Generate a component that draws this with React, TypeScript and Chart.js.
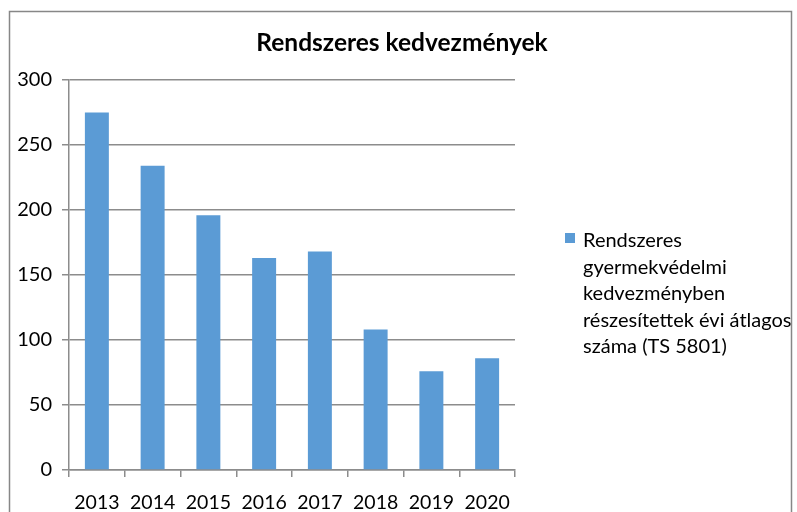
import React, { useEffect, useRef } from "react";
import { Chart, registerables } from "chart.js";

Chart.register(...registerables);

const title = "Rendszeres kedvezmények";
const categories = ["2013", "2014", "2015", "2016", "2017", "2018", "2019", "2020"];
const values = [275, 234, 196, 163, 168, 108, 76, 86];
const seriesLabel = "Rendszeres gyermekvédelmi kedvezményben részesítettek évi átlagos száma (TS 5801)";
const legendLines = ["Rendszeres", "gyermekvédelmi", "kedvezményben", "részesítettek évi átlagos", "száma (TS 5801)"];
const yTicks = [0, 50, 100, 150, 200, 250, 300];

const FONT = "Lato, 'Open Sans', sans-serif";
const GRID = "#8c8c8c";
const BAR = "#5b9bd5";

const decorPlugin = {
  id: "decor",
  afterDraw(chart: any) {
    const ctx = chart.ctx;
    ctx.save();
    // outer frame
    ctx.strokeStyle = "#878787";
    ctx.lineWidth = 1.5;
    ctx.strokeRect(9.5, 11.5, 782, 520);
    // title
    ctx.fillStyle = "#000";
    ctx.font = `bold 24.5px ${FONT}`;
    ctx.textAlign = "center";
    ctx.textBaseline = "middle";
    ctx.fillText(title, 402, 43);
    // legend
    const ds = chart.data.datasets[0];
    ctx.fillStyle = ds.backgroundColor;
    ctx.fillRect(565, 233, 10, 10);
    ctx.fillStyle = "#000";
    ctx.font = `20px ${FONT}`;
    ctx.textAlign = "left";
    legendLines.forEach((line, i) => {
      ctx.fillText(line, 583, 241 + i * 26.5);
    });
    ctx.restore();
  },
};

export default function App() {
  const ref = useRef<HTMLCanvasElement>(null);
  useEffect(() => {
    if (!ref.current) return;
    const chart = new Chart(ref.current, {
      type: "bar",
      data: {
        labels: categories,
        datasets: [
          {
            label: seriesLabel,
            data: values,
            backgroundColor: BAR,
            categoryPercentage: 0.86,
            barPercentage: 0.5,
          },
        ],
      },
      options: {
        animation: false,
        responsive: false,
        maintainAspectRatio: false,
        layout: { padding: { left: 0, top: 80, right: 282, bottom: 0 } },
        plugins: { legend: { display: false }, title: { display: false }, tooltip: { enabled: false } },
        scales: {
          x: {
            offset: true,
            grid: {
              display: true,
              offset: true,
              drawOnChartArea: false,
              drawTicks: true,
              tickLength: 7,
              color: GRID,
              lineWidth: 1.5,
            },
            border: { display: true, color: GRID, width: 1.5 },
            ticks: { color: "#000", font: { family: FONT, size: 19.5 }, padding: 14, maxRotation: 0 },
            afterFit(scale: any) {
              scale.height = 42;
            },
          },
          y: {
            min: 0,
            max: 300,
            afterBuildTicks(scale: any) {
              scale.ticks = yTicks.map((v) => ({ value: v }));
            },
            grid: {
              color: GRID,
              lineWidth: 1.5,
              drawTicks: true,
              tickLength: 7,
            },
            border: { display: true, color: GRID, width: 1.5 },
            ticks: { color: "#000", font: { family: FONT, size: 20 }, padding: 10 },
            afterFit(scale: any) {
              scale.width = 69;
            },
          },
        },
      },
      plugins: [decorPlugin],
    });
    return () => chart.destroy();
  }, []);
  return (
    <div style={{ position: "fixed", left: 0, top: 0, width: 797, height: 512, background: "#fff" }}>
      <canvas ref={ref} width={797} height={512} style={{ display: "block" }} />
    </div>
  );
}
